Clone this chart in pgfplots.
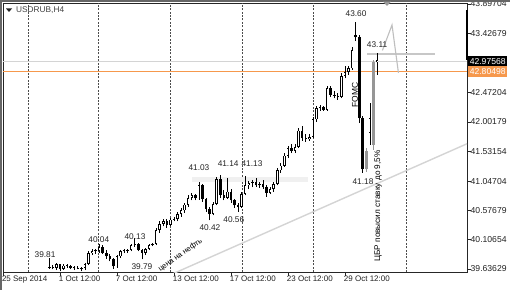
\documentclass[border=0pt]{standalone}
\usepackage{fontspec}
\setmainfont{Liberation Sans}
\usepackage{pgfplots}
\usepackage{pgfplotstable}
\pgfplotsset{compat=1.18}
\definecolor{orangeln}{RGB}{246,152,76}
\definecolor{bidln}{RGB}{212,212,212}
\definecolor{txt}{RGB}{35,35,35}
\definecolor{grayc}{RGB}{150,150,150}
\definecolor{band}{RGB}{240,240,240}

\pgfplotstableread{
i o h l c
13 39.66 39.81 39.64 39.67
15 39.65 39.73 39.62 39.71
17 39.64 39.71 39.62 39.69
20 39.65 39.68 39.62 39.66
22 39.64 39.67 39.60 39.66
23 39.66 39.74 39.62 39.72
24 39.72 39.92 39.70 39.89
25 39.89 39.95 39.86 39.92
26 39.92 39.96 39.88 39.93
27 39.93 40.04 39.90 39.99
32 39.68 39.86 39.66 39.84
33 39.84 39.94 39.82 39.92
34 39.92 39.95 39.89 39.93
35 39.93 39.96 39.90 39.94
36 39.94 40.04 39.92 40.02
37 40.02 40.13 39.99 40.04
40 39.90 39.98 39.86 39.96
41 39.96 40.04 39.94 40.02
42 40.02 40.06 40.00 40.04
43 40.04 40.30 40.02 40.26
44 40.26 40.40 40.22 40.36
45 40.36 40.44 40.32 40.40
47 40.34 40.46 40.32 40.43
48 40.43 40.47 40.40 40.44
49 40.44 40.55 40.40 40.52
50 40.52 40.62 40.48 40.58
51 40.58 40.70 40.54 40.67
52 40.67 40.82 40.64 40.78
53 40.78 40.86 40.74 40.82
55 40.77 41.03 40.75 40.98
59 40.52 40.72 40.50 40.68
60 40.68 41.12 40.66 41.08
63 40.78 41.10 40.76 40.88
67 40.64 40.88 40.62 40.84
68 40.84 41.13 40.82 40.99
69 40.99 41.05 40.92 41.02
70 41.02 41.06 40.95 41.04
72 40.98 41.04 40.94 41.00
75 40.86 40.96 40.84 40.92
76 40.92 41.04 40.88 41.00
77 41.00 41.26 40.98 41.22
78 41.22 41.34 41.18 41.30
79 41.30 41.50 41.28 41.46
80 41.46 41.62 41.42 41.58
82 41.54 41.64 41.50 41.60
83 41.60 41.90 41.58 41.86
86 41.72 41.80 41.70 41.76
87 41.76 42.08 41.74 42.04
88 42.04 42.26 42.00 42.22
89 42.22 42.28 42.18 42.24
91 42.20 42.58 42.18 42.54
95 42.40 42.78 42.38 42.74
96 42.74 42.90 42.70 42.80
97 42.80 42.90 42.76 42.86
98 42.86 43.20 42.84 43.16
103 41.82 42.30 41.63 42.06
105 42.96 43.11 42.76 42.99
}\bull

\pgfplotstableread{
i o h l c
14 39.67 39.70 39.63 39.65
16 39.71 39.72 39.60 39.64
18 39.69 39.72 39.66 39.68
19 39.68 39.70 39.63 39.65
21 39.66 39.69 39.63 39.64
28 39.99 40.02 39.88 39.90
29 39.90 39.94 39.80 39.84
30 39.84 39.88 39.76 39.80
31 39.80 39.82 39.64 39.68
38 40.04 40.06 39.92 39.94
39 39.94 39.96 39.79 39.90
46 40.40 40.44 40.30 40.34
54 40.82 40.85 40.74 40.77
56 40.98 41.00 40.72 40.76
57 40.76 40.78 40.56 40.60
58 40.60 40.64 40.42 40.52
61 41.08 41.14 40.78 40.82
62 40.82 40.90 40.74 40.78
64 40.88 40.92 40.70 40.74
65 40.74 40.76 40.62 40.66
66 40.66 40.70 40.56 40.64
71 41.04 41.10 40.96 40.98
73 41.00 41.06 40.92 40.95
74 40.95 40.98 40.80 40.86
81 41.58 41.64 41.50 41.54
84 41.86 41.94 41.70 41.74
85 41.74 41.80 41.68 41.72
90 42.24 42.26 42.18 42.20
92 42.54 42.58 42.40 42.44
93 42.44 42.50 42.38 42.42
94 42.42 42.46 42.36 42.40
99 43.40 43.60 43.30 43.36
}\bear

\pgfplotstableread{
i o h l c
100 43.36 43.40 41.98 42.06
101 42.06 42.10 41.18 41.24
}\bigbear

\pgfplotstableread{
i o h l c
102 41.24 41.58 41.20 41.54
104 41.63 43.00 41.55 42.96
}\grayc

\tikzset{lbl/.style={font=\fontsize{8.3}{9}\selectfont, text=txt, inner sep=0pt}}
\pgfplotsset{
  candle/.style n args={2}{draw=none, mark=none, forget plot,
    error bars/.cd, y dir=plus, y explicit, error mark=none,
    error bar style={draw=#1, line width=#2, line cap=butt, solid}},
}

\begin{document}
\begin{tikzpicture}
\useasboundingbox (0,0) rectangle (510pt,290pt);
\fill[white] (0,0) rectangle (510pt,290pt);
\begin{axis}[at={(3pt,18pt)}, anchor=south west, width=464pt, height=269pt, scale only axis,
  xmin=0, xmax=130.25, ymin=39.588, ymax=43.9128,
  clip mode=individual,
  axis line style={black!85, line width=0.8pt},
  tick align=outside, major tick length=3.5pt, tick style={black!85, line width=0.6pt},
  xtick pos=left, ytick pos=right, yticklabel pos=right,
  xtick={0,16,32,48,64,80,96},
  xticklabels={25 Sep 2014, 1 Oct 12:00, 7 Oct 12:00, 13 Oct 12:00, 17 Oct 12:00, 23 Oct 12:00, 29 Oct 12:00},
  xticklabel style={anchor=north west, inner sep=0pt, xshift=-1.2pt, font=\fontsize{8}{9}\selectfont, text=txt},
  ytick={39.63629,40.10654,40.57679,41.04704,41.53154,42.00179,42.47204,43.42679,43.89704},
  yticklabels={39.63629,40.10654,40.57679,41.04704,41.53154,42.00179,42.47204,43.42679,43.89704},
  yticklabel style={anchor=west, inner sep=0pt, font=\fontsize{8.6}{9}\selectfont, text=txt},
  extra x ticks={7,26.9,46.9,67.1,87,113.1},
  extra x tick labels={,,,,,},
  extra x tick style={grid=major, major tick length=0pt, major grid style={black!70, dash pattern=on 2pt off 1.4pt, line width=0.7pt}},
]
% light band
\addplot[fill=band, draw=none, forget plot] coordinates {(53.1,41.04) (85.6,41.04) (85.6,41.12) (53.1,41.12)} -- cycle;
% bid and orange lines
\addplot[bidln, line width=1.4pt, forget plot] coordinates {(0,42.97568) (130.25,42.97568)};
\addplot[orangeln, line width=1pt, forget plot] coordinates {(0,42.80498) (130.25,42.80498)};
% trend line
\addplot[black!17, line width=1.4pt, forget plot] coordinates {(40,39.365) (130.25,41.65)};
% forecast drawings
\addplot[black!22, line width=1.3pt, forget plot] coordinates {(102.2,43.093) (121.3,43.093)};
\addplot[black!25, line width=1.1pt, forget plot] coordinates {(106.5,43.15) (109.2,43.56) (111.0,42.79)};

% wicks
\addplot[candle={black}{0.8pt}] table[x=i, y=l, y error expr=\thisrow{h}-\thisrow{l}] {\bull};
\addplot[candle={black}{0.8pt}] table[x=i, y=l, y error expr=\thisrow{h}-\thisrow{l}] {\bear};
\addplot[candle={black}{0.8pt}] table[x=i, y=l, y error expr=\thisrow{h}-\thisrow{l}] {\bigbear};
\addplot[candle={grayc}{0.8pt}] table[x=i, y=l, y error expr=\thisrow{h}-\thisrow{l}] {\grayc};
% bodies
\addplot[candle={black}{2.5pt}] table[x=i, y=o, y error expr={max(\thisrow{c}-\thisrow{o},0.015)}] {\bull};
\addplot[candle={white}{1.0pt}] table[x=i, y expr=\thisrow{o}+0.012, y error expr={max(\thisrow{c}-\thisrow{o}-0.024,0)}] {\bull};
\addplot[candle={black}{2.5pt}] table[x=i, y=c, y error expr={max(\thisrow{o}-\thisrow{c},0.015)}] {\bear};
\addplot[candle={black}{3.3pt}] table[x=i, y=c, y error expr={max(\thisrow{o}-\thisrow{c},0.015)}] {\bigbear};
\addplot[candle={grayc}{3.4pt}] table[x=i, y=o, y error expr={max(\thisrow{c}-\thisrow{o},0.015)}] {\grayc};

% value labels
\node[lbl] at (axis cs:11.8,39.861) {39.81};
\node[lbl] at (axis cs:26.9,40.102) {40.04};
\node[lbl] at (axis cs:37.05,40.151) {40.13};
\node[lbl] at (axis cs:39.0,39.668) {39.79};
\node[lbl] at (axis cs:58.1,40.295) {40.42};
\node[lbl] at (axis cs:64.8,40.424) {40.56};
\node[lbl] at (axis cs:55.0,41.260) {41.03};
\node[lbl] at (axis cs:63.2,41.324) {41.14};
\node[lbl] at (axis cs:69.9,41.324) {41.13};
\node[lbl] at (axis cs:99.1,43.736) {43.60};
\node[lbl] at (axis cs:105.0,43.238) {43.11};
\node[lbl] at (axis cs:101.05,41.035) {41.18};
% annotations
\node[lbl, text=black, rotate=90, font=\fontsize{8.4}{9}\selectfont] at (axis cs:98.8,42.43) {FOMC};
\node[lbl, text=black, rotate=90, font=\fontsize{8.2}{9}\selectfont] at (axis cs:105.3,40.65) {ЦБР повысил ставку до 9,5\%};
\node[lbl, text=black, rotate=35, font=\fontsize{7.6}{9}\selectfont] at (axis cs:49.8,39.86) {цена на нефть};
% price boxes
\node[anchor=west, fill=black, text=white, inner sep=0pt, minimum height=11pt, minimum width=39pt, xshift=1pt, font=\fontsize{8.6}{9}\selectfont] at (axis cs:130.25,42.97568) {42.97568};
\node[anchor=west, fill=orangeln, text=white, inner sep=0pt, minimum height=11pt, minimum width=39pt, xshift=1pt, font=\fontsize{8.6}{9}\selectfont] at (axis cs:130.25,42.80498) {42.80498};
\draw[black, line width=2pt] (axis cs:130.25,43.80) -- (axis cs:130.25,42.996);
\end{axis}
% frame and title
\fill[black!60] (0,0) rectangle (2pt,290pt);
\fill[black!60] (0,288.4pt) rectangle (510pt,290pt);
\fill[black!40] (383pt,288.4pt) -- (391pt,288.4pt) -- (387pt,284pt) -- cycle;
\fill[txt] (6pt,281.5pt) -- (12pt,281.5pt) -- (9pt,278pt) -- cycle;
\node[anchor=west, inner sep=0pt, font=\fontsize{8.3}{9}\selectfont, text=black!75] at (16pt,280pt) {USDRUB,H4};
\end{tikzpicture}
\end{document}
